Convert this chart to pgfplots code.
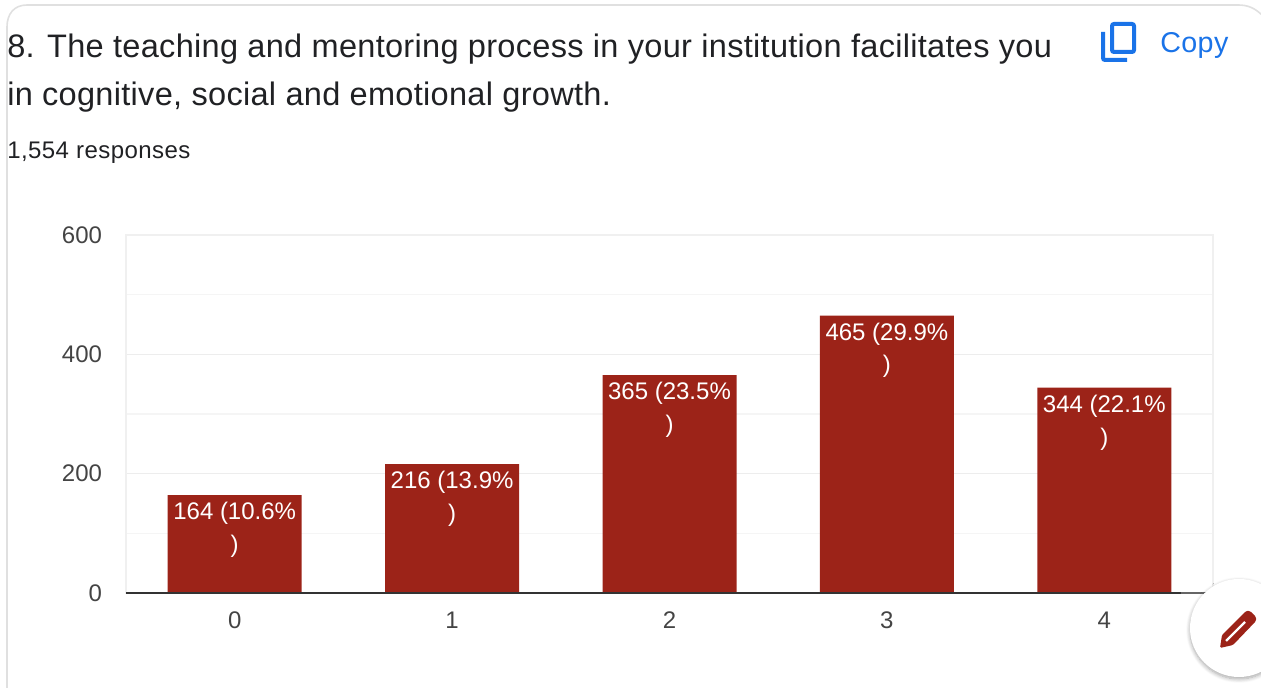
\documentclass[border=0pt]{standalone}
\usepackage{pgfplots}
\pgfplotsset{compat=1.18}
\usepackage{fontspec}
\setmainfont{Liberation Sans}
\newfontfamily\headfont[LetterSpace=0.9]{Liberation Sans}
\usetikzlibrary{shadows.blur}
\definecolor{barred}{HTML}{9C2318}
\definecolor{gblue}{HTML}{1A73E8}
\definecolor{tick}{HTML}{444444}
\definecolor{head}{HTML}{202124}
\begin{document}
\begin{tikzpicture}
\useasboundingbox (0,0) rectangle (945.75pt,516pt);
\begin{scope}[x=0.75pt,y=-0.75pt,yshift=516pt]
\clip (0,0) rectangle (1261,688);
% card
\draw[color=black!12,line width=1.2pt] (7,700) -- (7,27) .. controls (7,14) and (14,5) .. (27,5) -- (1238,5) .. controls (1248,5) and (1255,8) .. (1263,16);
% title
\node[anchor=base west,inner sep=0pt,text=head] at (7,58) {\headfont\fontsize{24.4}{30}\selectfont 8. The teaching and mentoring process in your institution facilitates you};
\node[anchor=base west,inner sep=0pt,text=head] at (7,106) {\headfont\fontsize{24.4}{30}\selectfont in cognitive, social and emotional growth.};
\node[anchor=base west,inner sep=0pt,text=head] at (7,159) {\fontsize{18}{22}\selectfont\addfontfeatures{LetterSpace=1.8}1,554 responses};
% copy
\draw[gblue,line width=3pt,rounded corners=1.5pt] (1112,24) rectangle (1134,52);
\draw[gblue,line width=3pt,rounded corners=1.5pt] (1103,32) -- (1103,60) -- (1127,60);
\node[anchor=base west,inner sep=0pt,text=gblue] at (1160,53) {\fontsize{21.5}{26}\selectfont\addfontfeatures{LetterSpace=1.5}Copy};
\end{scope}
\begin{axis}[
  at={(94.5pt,71.25pt)},anchor=south west,
  scale only axis,width=815.25pt,height=268.5pt,
  xmin=-0.5,xmax=4.5,ymin=0,ymax=600,
  xtick={0,1,2,3,4},ytick={0,200,400,600},minor ytick={100,300,500},
  ymajorgrids,yminorgrids,
  major grid style={color=black!7,line width=0.9pt},
  minor grid style={color=black!4,line width=0.9pt},
  axis line style={color=black!6,line width=0.9pt},
  major tick length=0pt,minor tick length=0pt,
  tick label style={text=tick,font=\fontsize{18}{22}\selectfont},
  xticklabel style={yshift=-10.5pt},
  yticklabel style={xshift=-14.5pt},
  /pgf/number format/assume math mode=true,
  axis on top=false,
  clip=false,
]
\addplot[ybar,bar width=100.5pt,fill=barred,draw=none,
  point meta=explicit symbolic,
  nodes near coords={\pgfplotspointmeta\\)},
  every node near coord/.style={anchor=north,inner sep=0pt,align=center,yshift=-5.1pt,
     text=white,font=\fontsize{18}{24.7}\selectfont},
] coordinates {
  (0,164) [164 (10.6\%]
  (1,216) [216 (13.9\%]
  (2,365) [365 (23.5\%]
  (3,465) [465 (29.9\%]
  (4,344) [344 (22.1\%]
};
\end{axis}
\begin{scope}[x=0.75pt,y=-0.75pt,yshift=516pt]
\clip (0,0) rectangle (1261,688);
\draw[color=black!80,line width=1.5pt] (126,593) -- (1181,593);
\draw[color=black!60,line width=1.5pt] (1181,593) -- (1206,593);
% edit button
\fill[white,blur shadow={shadow blur steps=8,shadow xshift=0pt,shadow yshift=-1.5pt,shadow blur radius=3pt,shadow opacity=35}] (1239,628) circle[radius=49];
\fill[barred,rounded corners=1pt] (1220,648) -- (1222,635) -- (1246,611) -- (1250,611) -- (1256,617) -- (1256,621) -- (1233,645) -- cycle;
\draw[white,line width=1.6pt] (1226,641) -- (1245,622);
\end{scope}
\end{tikzpicture}
\end{document}
